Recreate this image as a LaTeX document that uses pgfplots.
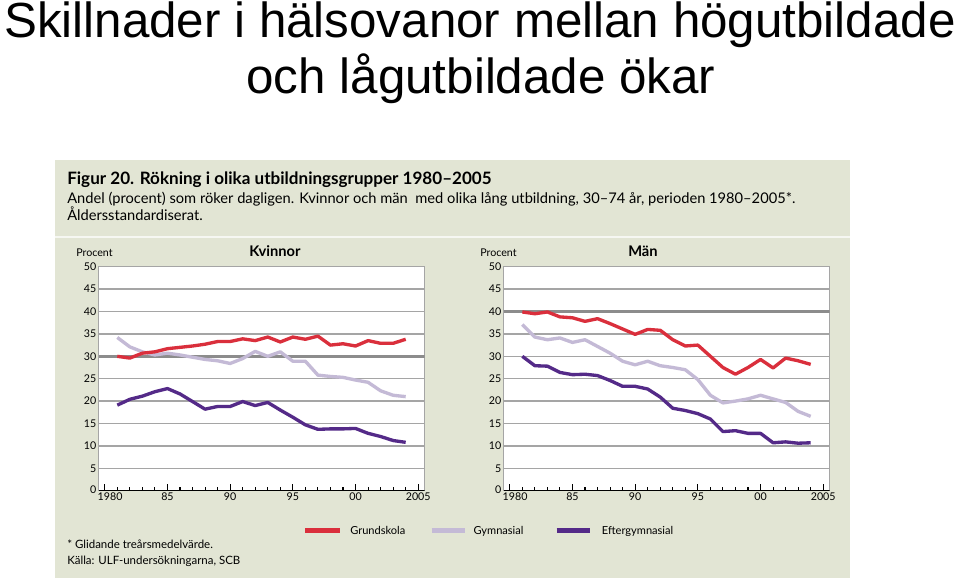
\documentclass[border=0pt]{standalone}
\usepackage{pgfplots}
\usepackage{pgfplotstable}
\pgfplotsset{compat=1.18}
\usepackage{fontspec}
\setmainfont{Lato}
\newfontfamily\arial{Liberation Sans}

\definecolor{panel}{RGB}{226,229,212}
\definecolor{grund}{RGB}{218,47,60}
\definecolor{gymn}{RGB}{196,186,214}
\definecolor{efter}{RGB}{84,42,136}
\definecolor{gridgray}{RGB}{165,165,165}
\definecolor{thickgray}{RGB}{140,140,140}

% year, grundskola, gymnasial, eftergymnasial
\pgfplotstableread{
year g gy e
1981 30.0 34.2 19.1
1982 29.6 32.1 20.4
1983 30.7 31.0 21.1
1984 31.0 30.3 22.1
1985 31.7 30.7 22.8
1986 32.0 30.3 21.6
1987 32.3 29.8 19.9
1988 32.7 29.3 18.2
1989 33.3 29.0 18.8
1990 33.3 28.4 18.8
1991 33.9 29.5 19.9
1992 33.5 31.1 19.0
1993 34.3 30.0 19.7
1994 33.2 31.0 18.0
1995 34.3 28.9 16.4
1996 33.8 28.9 14.7
1997 34.5 25.8 13.7
1998 32.5 25.5 13.8
1999 32.8 25.3 13.8
2000 32.3 24.7 13.9
2001 33.5 24.2 12.8
2002 32.9 22.3 12.1
2003 32.9 21.3 11.2
2004 33.8 21.0 10.8
}\kvinnor

\pgfplotstableread{
year g gy e
1981 39.9 37.1 30.0
1982 39.5 34.3 27.9
1983 39.9 33.7 27.8
1984 38.8 34.1 26.4
1985 38.6 33.1 25.9
1986 37.8 33.7 26.0
1987 38.4 32.2 25.7
1988 37.3 30.7 24.6
1989 36.1 28.9 23.3
1990 34.9 28.1 23.3
1991 36.0 28.9 22.7
1992 35.8 27.9 20.9
1993 33.7 27.5 18.4
1994 32.3 27.0 17.9
1995 32.5 24.8 17.2
1996 30.0 21.3 16.0
1997 27.5 19.6 13.2
1998 26.0 20.0 13.4
1999 27.5 20.5 12.8
2000 29.3 21.3 12.8
2001 27.4 20.5 10.7
2002 29.6 19.7 10.9
2003 29.0 17.7 10.6
2004 28.2 16.6 10.7
}\maen

\pgfplotsset{
  smok/.style={
    scale only axis, width=244.5pt, height=168pt,
    xmin=1979.5, xmax=2005.5, ymin=0, ymax=50,
    xtick={1980,1985,...,2005},
    xticklabels={\hspace*{8pt}1980,85,90,95,00,2005},
    minor x tick num=4,
    ytick={0,5,...,50},
    yticklabels={\raisebox{1.5pt}{0},5,10,15,20,25,30,35,40,45,50},
    ymajorgrids, grid style={draw=gridgray, line width=1pt},
    xtick pos=bottom, ytick pos=left, tick align=inside,
    major tick length=5pt, minor tick length=3pt,
    xtick style={black, line width=0.8pt},
    ytick style={draw=none},
    axis line style={draw=gridgray, line width=1pt},
    axis background/.style={fill=white},
    tick label style={font=\fontsize{8}{9}\selectfont},
    yticklabel style={inner sep=1.5pt},
    xticklabel style={inner sep=1.5pt},
    every axis plot/.append style={line width=2.5pt, line join=round, no markers},
  }
}

\begin{document}
\begin{tikzpicture}[x=0.75pt,y=0.75pt]
\path[use as bounding box] (0,0) rectangle (960,-578);

% slide title
\node[font=\arial\fontsize{37}{40}\selectfont, anchor=base, inner sep=0] at (480,-37) {Skillnader i hälsovanor mellan högutbildade};
\node[font=\arial\fontsize{37}{40}\selectfont, anchor=base, inner sep=0] at (481,-93) {och lågutbildade ökar};

% figure panel
\fill[panel] (55,-160) rectangle (850,-578);
\draw[white!70!panel, line width=1pt] (55,-237) -- (850,-237);

\node[font=\bfseries\fontsize{12.8}{14}\selectfont, anchor=base west, inner sep=0] at (67,-184) {Figur 20. Rökning i olika utbildningsgrupper 1980--2005};
\node[font=\fontsize{11}{12}\selectfont, anchor=base west, inner sep=0] at (67,-203) {Andel (procent) som röker dagligen. Kvinnor och män\ \ med olika lång utbildning, 30--74 år, perioden 1980--2005*.};
\node[font=\fontsize{11}{12}\selectfont, anchor=base west, inner sep=0] at (67,-220) {Åldersstandardiserat.};

% panel headings
\node[font=\fontsize{8}{9}\selectfont, anchor=base west, inner sep=0] at (76,-256) {Procent};
\node[font=\fontsize{8}{9}\selectfont, anchor=base west, inner sep=0] at (480,-256) {Procent};
\node[font=\bfseries\fontsize{11}{12}\selectfont, anchor=base, inner sep=0] at (275,-256) {Kvinnor};
\node[font=\bfseries\fontsize{11}{12}\selectfont, anchor=base, inner sep=0] at (643,-256) {Män};

\coordinate (kv) at (98.5,-490.7);
\coordinate (ma) at (503.5,-490.7);

\begin{axis}[smok, at={(kv)}, anchor=south west]
  \draw[thickgray, line width=2pt] (axis cs:1979.5,30) -- (axis cs:2005.5,30);
  \addplot[gymn] table[x=year, y=gy] {\kvinnor};
  \addplot[grund] table[x=year, y=g] {\kvinnor};
  \addplot[efter] table[x=year, y=e] {\kvinnor};
  \draw[black, line width=1pt] (rel axis cs:0,0) -- (rel axis cs:1,0);
\end{axis}

\begin{axis}[smok, at={(ma)}, anchor=south west]
  \draw[thickgray, line width=2pt] (axis cs:1979.5,40) -- (axis cs:2005.5,40);
  \addplot[gymn] table[x=year, y=gy] {\maen};
  \addplot[grund] table[x=year, y=g] {\maen};
  \addplot[efter] table[x=year, y=e] {\maen};
  \draw[black, line width=1pt] (rel axis cs:0,0) -- (rel axis cs:1,0);
\end{axis}

% legend
\draw[grund, line width=3.5pt] (305,-530.7) -- (340,-530.7);
\node[font=\fontsize{8.3}{9}\selectfont, anchor=base west, inner sep=0] at (350,-534.5) {Grundskola};
\draw[gymn, line width=3.5pt] (431.7,-530.7) -- (465,-530.7);
\node[font=\fontsize{8.3}{9}\selectfont, anchor=base west, inner sep=0] at (473.3,-534.5) {Gymnasial};
\draw[efter, line width=3.5pt] (556.7,-530.7) -- (590,-530.7);
\node[font=\fontsize{8.3}{9}\selectfont, anchor=base west, inner sep=0] at (601.7,-534.5) {Eftergymnasial};

% notes
\node[font=\fontsize{8.6}{9}\selectfont, anchor=base west, inner sep=0] at (67,-548) {* Glidande treårsmedelvärde.};
\node[font=\fontsize{8.6}{9}\selectfont, anchor=base west, inner sep=0] at (67,-564) {Källa: ULF-undersökningarna, SCB};
\end{tikzpicture}
\end{document}
